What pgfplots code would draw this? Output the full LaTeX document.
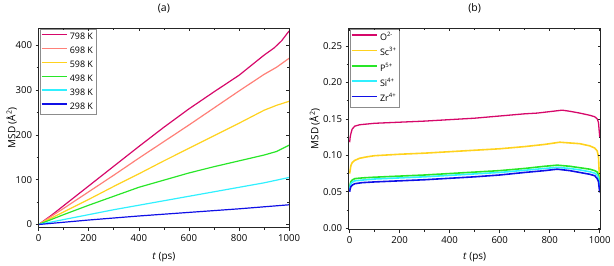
\documentclass[border=0pt]{standalone}
\usepackage{pgfplots}
\pgfplotsset{compat=1.18}
\usepackage{fontspec}
\setmainfont{Open Sans}
\definecolor{c798}{HTML}{D6086A}
\definecolor{c698}{HTML}{FF8078}
\definecolor{c598}{HTML}{FFD21E}
\definecolor{c498}{HTML}{28E628}
\definecolor{c398}{HTML}{30F0FF}
\definecolor{c298}{HTML}{1010E6}
\pgfplotsset{
  base/.style={scale only axis,
    axis line style={line width=0.7pt, black!85},
    major tick length=3pt, minor tick length=2pt,
    tick style={black!85, line width=0.6pt},
    tick label style={font=\fontsize{9.6}{11}\selectfont},
    label style={font=\fontsize{10}{12}\selectfont},
    /pgf/number format/assume math mode=true,
    /pgf/number format/1000 sep={}},
  mainax/.style={base, xtick pos=bottom, ytick pos=left, tick align=outside},
  mirrorax/.style={base, xtick pos=top, ytick pos=right, tick align=inside,
    xticklabels={}, yticklabels={}},
  leg/.style={legend cell align=left,
    legend style={draw=black!45, line width=0.5pt, inner sep=0.5pt,
      at={(axis description cs:0.006,0.995)}, anchor=north west,
      nodes={font=\fontsize{9}{10}\selectfont, text height=7pt, text depth=2.2pt, inner sep=2.4pt}},
    legend image code/.code={\draw[##1] (0pt,2.5pt) -- (25pt,2.5pt);}}
}
\begin{document}
\begin{tikzpicture}
\path (0pt,0pt) rectangle (614pt,258pt);
% ---------------- panel (a)
\begin{axis}[mainax, leg, at={(38.7pt,36pt)}, anchor=south west, width=251.3pt, height=200pt,
  xmin=0, xmax=1000, ymin=-7, ymax=438,
  xtick={0,200,...,1000}, ytick={0,100,...,400}, minor x tick num=1, minor y tick num=1,
  title={(a)}, title style={at={(axis description cs:0.5,1)}, anchor=base, yshift=11pt, font=\fontsize{10.5}{12}\selectfont},
  xlabel={\textit{t} (ps)}, xlabel style={at={(axis description cs:0.5,0)}, anchor=base, yshift=-32pt},
  ylabel={MSD (Å\textsuperscript{2})}, ylabel style={at={(axis description cs:-0.107,0.5)}, anchor=center},
  every axis plot/.append style={line width=1.2pt}]
\addlegendimage{c798, line width=1.6pt}\addlegendentry{798 K}
\addlegendimage{c698, line width=1.6pt}\addlegendentry{698 K}
\addlegendimage{c598, line width=1.6pt}\addlegendentry{598 K}
\addlegendimage{c498, line width=1.6pt}\addlegendentry{498 K}
\addlegendimage{c398, line width=1.6pt}\addlegendentry{398 K}
\addlegendimage{c298, line width=1.6pt}\addlegendentry{298 K}
\addplot[c798, forget plot] coordinates {(0,0)(50,20)(100,42)(200,86)(300,130)(400,174)(500,217)(600,258)(700,296)(800,333)(900,378)(940,394)(970,410)(1000,432)};
\addplot[c698, forget plot] coordinates {(0,0)(100,36)(200,73)(300,110)(400,148)(500,185)(600,222)(700,260)(800,298)(900,335)(950,351)(1000,371)};
\addplot[c598, forget plot] coordinates {(0,0)(100,28)(200,56)(300,85)(400,113)(500,142)(600,170)(700,198)(800,226)(900,255)(950,266)(1000,275)};
\addplot[c498, forget plot] coordinates {(0,0)(100,22)(200,43)(300,63)(400,83)(500,99)(600,115)(700,129)(800,142)(900,155)(950,163)(1000,177)};
\addplot[c398, forget plot] coordinates {(0,0)(100,11)(200,22)(300,33)(400,43)(500,53)(600,63)(700,73)(800,83)(900,93)(1000,105)};
\addplot[c298, forget plot] coordinates {(0,0)(100,5)(200,10)(300,14.5)(400,19)(500,23)(600,27)(700,31)(800,35)(900,39.5)(1000,44)};
\end{axis}
\begin{axis}[mirrorax, at={(38.7pt,36pt)}, anchor=south west, width=251.3pt, height=200pt,
  xmin=0, xmax=1000, ymin=-7, ymax=438,
  xtick={0,200,...,1000}, ytick={0,100,...,400}, minor x tick num=1, minor y tick num=1]
\addplot[draw=none] coordinates {(0,0)};
\end{axis}
% ---------------- panel (b)
\begin{axis}[mainax, leg, at={(349.7pt,34pt)}, anchor=south west, width=252.8pt, height=202pt,
  xmin=-4, xmax=1004, ymin=-0.002, ymax=0.2745,
  xtick={0,200,...,1000}, ytick={0,0.05,...,0.26}, minor x tick num=1, minor y tick num=1,
  yticklabel style={/pgf/number format/.cd, fixed, fixed zerofill, precision=2},
  title={(b)}, title style={at={(axis description cs:0.5,1)}, anchor=base, yshift=11pt, font=\fontsize{10.5}{12}\selectfont},
  xlabel={\textit{t} (ps)}, xlabel style={at={(axis description cs:0.5,0)}, anchor=base, yshift=-30pt},
  ylabel={MSD (Å\textsuperscript{2})}, ylabel style={at={(axis description cs:-0.134,0.5)}, anchor=center},
  legend style={nodes={text height=7.8pt, text depth=2.4pt, inner sep=2.6pt}},
  every axis plot/.append style={line width=1.6pt}]
\addlegendimage{c798, line width=1.6pt}\addlegendentry{O\textsuperscript{2-}}
\addlegendimage{c598, line width=1.6pt}\addlegendentry{Sc\textsuperscript{3+}}
\addlegendimage{c498, line width=1.6pt}\addlegendentry{P\textsuperscript{5+}}
\addlegendimage{c398, line width=1.6pt}\addlegendentry{Si\textsuperscript{4+}}
\addlegendimage{c298, line width=1.6pt}\addlegendentry{Zr\textsuperscript{4+}}
\addplot[c798, forget plot, line width=1.3pt] coordinates {(0,0.118)(2,0.125)(5,0.130)(10,0.136)(20,0.140)(40,0.142)(70,0.143)(100,0.144)(200,0.1455)(300,0.147)(400,0.149)(500,0.151)(600,0.154)(700,0.157)(750,0.158)(800,0.160)(850,0.162)(880,0.1605)(920,0.158)(960,0.155)(980,0.153)(990,0.150)(995,0.145)(1000,0.125)};
\addplot[c598, forget plot] coordinates {(0,0.075)(2,0.080)(5,0.086)(10,0.090)(20,0.093)(40,0.096)(70,0.098)(100,0.0995)(200,0.1015)(300,0.103)(400,0.105)(500,0.107)(600,0.109)(700,0.112)(780,0.115)(840,0.118)(880,0.117)(920,0.116)(960,0.113)(980,0.110)(990,0.106)(995,0.098)(1000,0.060)};
\addplot[c498, forget plot] coordinates {(0,0.055)(2,0.060)(5,0.064)(10,0.066)(20,0.068)(50,0.069)(100,0.070)(200,0.0715)(300,0.073)(400,0.075)(500,0.077)(600,0.079)(700,0.082)(780,0.085)(830,0.0865)(880,0.085)(920,0.083)(960,0.081)(980,0.079)(990,0.077)(995,0.073)(1000,0.060)};
\addplot[c398, forget plot] coordinates {(0,0.053)(2,0.058)(5,0.061)(10,0.063)(20,0.065)(50,0.066)(100,0.0675)(200,0.069)(300,0.0705)(400,0.0725)(500,0.0745)(600,0.0765)(700,0.0795)(780,0.082)(830,0.0835)(880,0.082)(920,0.080)(960,0.0775)(980,0.0755)(990,0.073)(995,0.069)(1000,0.055)};
\addplot[c298, forget plot] coordinates {(0,0.050)(2,0.054)(5,0.057)(10,0.059)(20,0.061)(50,0.0625)(100,0.0635)(200,0.065)(300,0.0665)(400,0.0685)(500,0.0705)(600,0.073)(700,0.0765)(780,0.079)(830,0.081)(880,0.079)(920,0.0765)(960,0.074)(980,0.072)(990,0.068)(995,0.064)(1000,0.049)};
\end{axis}
\begin{axis}[mirrorax, at={(349.7pt,34pt)}, anchor=south west, width=252.8pt, height=202pt,
  xmin=-4, xmax=1004, ymin=-0.002, ymax=0.2745,
  xtick={0,200,...,1000}, ytick={0,0.05,...,0.26}, minor x tick num=1, minor y tick num=1]
\addplot[draw=none] coordinates {(0,0)};
\end{axis}
\end{tikzpicture}
\end{document}
